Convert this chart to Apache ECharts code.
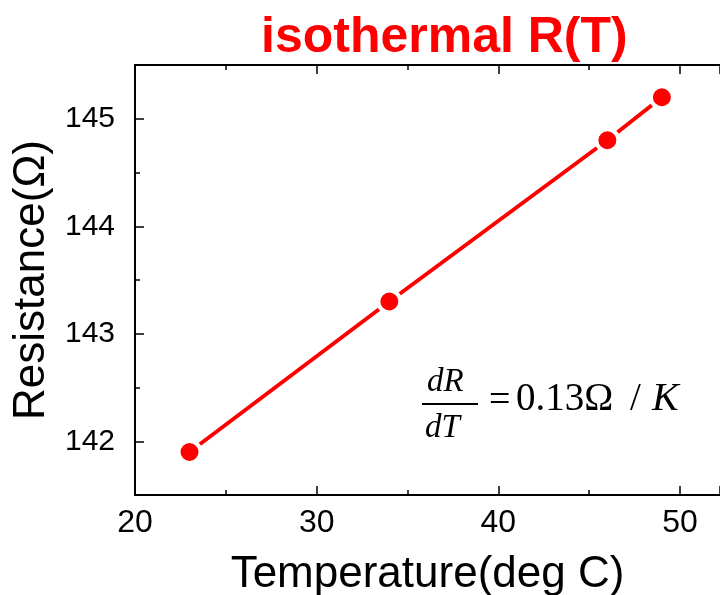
<!doctype html>
<html>
<head>
<meta charset="utf-8">
<title>isothermal R(T)</title>
<script src="https://cdn.jsdelivr.net/npm/echarts@6/dist/echarts.min.js"></script>
<style>
  html, body { margin: 0; padding: 0; background: #fff; }
  #main { width: 720px; height: 595px; }
</style>
</head>
<body>
<div id="main"></div>
<script>
// measured points: temperature (deg C) vs resistance (ohm)
var temps = [23, 34, 46, 49];
var resist = [141.9, 143.3, 144.8, 145.2];
var yMajor = [142, 143, 144, 145];
var yMinor = [141.5, 142.5, 143.5, 144.5, 145.5];

var pts = temps.map(function (t, i) { return [t, resist[i]]; });

var chart = echarts.init(document.getElementById('main'));

var xBase = {
  type: 'value', min: 20, max: 52.2, interval: 10,
  axisLine: { show: true, lineStyle: { color: '#000', width: 2 } },
  axisTick: { inside: true, length: 9, lineStyle: { color: '#000', width: 1.5 } },
  minorTick: { show: true, splitNumber: 2, length: 5, lineStyle: { color: '#000', width: 1.5 } },
  splitLine: { show: false }
};

var option = {
  animation: false,
  title: {
    text: 'isothermal R(T)',
    left: 256, top: 8,
    textStyle: { color: '#ff0000', fontSize: 50, fontWeight: 'bold', fontFamily: 'Liberation Sans' }
  },
  grid: { left: 135, top: 65, right: 0, bottom: 100, outerBoundsMode: 'none' },
  xAxis: [
    Object.assign({}, xBase, {
      position: 'bottom',
      name: 'Temperature(deg C)', nameLocation: 'middle', nameGap: 58,
      nameTextStyle: { fontSize: 44, color: '#000', fontFamily: 'Liberation Sans' },
      axisLabel: { color: '#000', fontSize: 32, margin: 12, fontFamily: 'Liberation Sans', showMaxLabel: false }
    }),
    Object.assign({}, xBase, { position: 'top', axisLabel: { show: false } })
  ],
  yAxis: [
    {
      type: 'value', min: 141.5, max: 145.5, position: 'left',
      name: 'Resistance(Ω)', nameLocation: 'middle', nameGap: 79,
      nameTextStyle: { fontSize: 44, color: '#000', fontFamily: 'Liberation Sans' },
      axisLine: { show: true, lineStyle: { color: '#000', width: 2 } },
      axisTick: { inside: true, length: 9, customValues: yMajor, lineStyle: { color: '#000', width: 1.5 } },
      axisLabel: { color: '#000', fontSize: 30, margin: 20, customValues: yMajor, fontFamily: 'Liberation Sans' },
      splitLine: { show: false }
    },
    {
      type: 'value', min: 141.5, max: 145.5, position: 'left',
      axisLine: { show: false },
      axisTick: { inside: true, length: 5, customValues: yMinor, lineStyle: { color: '#000', width: 1.5 } },
      axisLabel: { show: false },
      splitLine: { show: false }
    }
  ],
  graphic: [
    { type: 'text', left: 427, top: 366,
      style: { text: 'dR', font: 'italic 33px "Liberation Serif"', fill: '#000' } },
    { type: 'line', shape: { x1: 422, y1: 404, x2: 478, y2: 404 },
      style: { stroke: '#000', lineWidth: 2 } },
    { type: 'text', left: 425, top: 412,
      style: { text: 'dT', font: 'italic 33px "Liberation Serif"', fill: '#000' } },
    { type: 'text', left: 489, top: 382,
      style: { text: '=', font: '38px "Liberation Serif"', fill: '#000' } },
    { type: 'text', left: 516, top: 380,
      style: { text: '0.13Ω', font: '39px "Liberation Serif"', fill: '#000' } },
    { type: 'text', left: 630, top: 380,
      style: { text: '/', font: '39px "Liberation Serif"', fill: '#000' } },
    { type: 'text', left: 652, top: 379,
      style: { text: 'K', font: 'italic 40px "Liberation Serif"', fill: '#000' } }
  ],
  series: [{
    type: 'line',
    data: pts,
    xAxisIndex: 0, yAxisIndex: 0,
    symbol: 'circle', symbolSize: 22,
    lineStyle: { color: '#ff0000', width: 4 },
    itemStyle: { color: '#ff0000', borderColor: '#fff', borderWidth: 4 },
    z: 3
  }]
};

chart.setOption(option);
</script>
</body>
</html>
